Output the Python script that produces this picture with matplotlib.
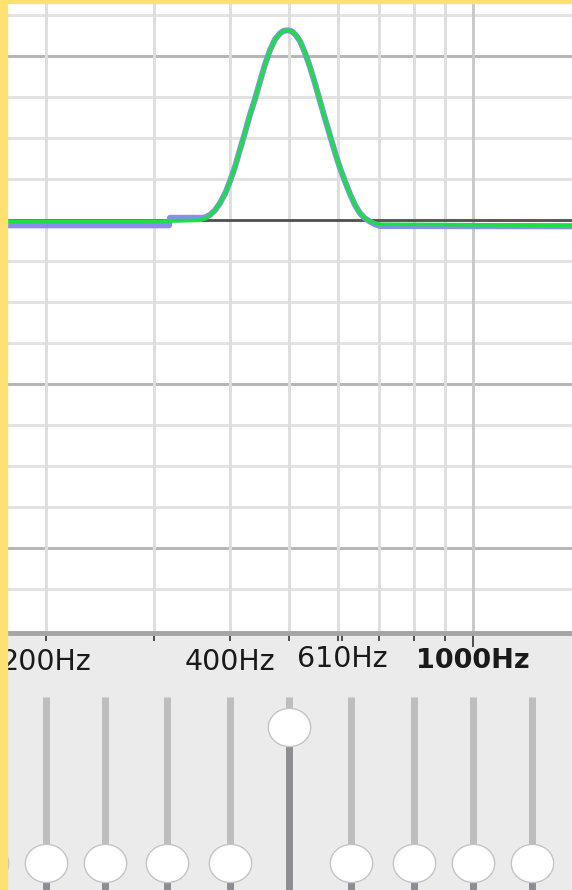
"""EQ 曲线截图复刻 — 单段峰值滤波 (500Hz) 与推子面板"""
import numpy as np
import matplotlib
matplotlib.use("Agg")
import matplotlib.pyplot as plt
from matplotlib.path import Path
from matplotlib.patches import Rectangle
from matplotlib.ticker import NullLocator

# 绿色曲线 (实际响应), Hz / dB
curve_hz = [172, 307, 357, 364, 371, 378, 385, 393, 400, 408, 415, 423, 431,
            440, 448, 456, 465, 474, 483, 490, 498, 505, 513,
            521, 531, 541, 551, 561, 572, 583, 594, 605, 617,
            629, 641, 653, 665, 678, 691, 704, 1451]
green_db = [-0.07, -0.07, 0.0, 0.11, 0.37, 0.73, 1.24, 1.98, 2.85, 3.95, 5.12, 6.37, 7.68,
            8.93, 10.17, 11.34, 12.44, 13.24, 13.68, 13.87, 13.90, 13.83, 13.54,
            13.10, 12.22, 11.20, 10.02, 8.78, 7.46, 6.22, 4.98, 3.88, 2.85,
            1.90, 1.10, 0.51, 0.15, -0.07, -0.22, -0.29, -0.37]

# 蓝色曲线 (目标响应)
blue_hz = [172, 318, 319, 357, 364, 371, 378, 385, 393, 400, 408, 415, 423, 431,
           440, 448, 456, 465, 474, 483, 490, 498, 505, 513,
           521, 531, 541, 551, 561, 572, 583, 594, 605, 617,
           629, 641, 653, 665, 678, 691, 704, 1451]
blue_db = [-0.37, -0.37, 0.18, 0.18, 0.2, 0.4, 0.73, 1.24, 1.98, 2.85, 3.95, 5.12, 6.37, 7.68,
           8.93, 10.17, 11.34, 12.44, 13.24, 13.68, 13.87, 13.90, 13.83, 13.54,
           13.10, 12.22, 11.20, 10.02, 8.78, 7.46, 6.22, 4.98, 3.88, 2.85,
           1.90, 1.10, 0.51, 0.15, -0.1, -0.3, -0.42, -0.44]

# 推子 (1/3 倍频程)
slider_hz = [160, 200, 250, 315, 400, 500, 630, 800, 1000, 1250]
slider_db = [0, 0, 0, 0, 0, 14, 0, 0, 0, 0]

# 坐标轴刻度与网格
tick_hz = [200, 300, 400, 500, 600, 610, 700, 800, 900, 1000]
tick_labels = ["200Hz", "", "400Hz", "", "", "610Hz", "", "", "", "1000Hz"]
grid_hz = [200, 300, 400, 500, 600, 700, 800, 900, 1000]
grid_db = list(range(-27, 16, 3))

W, H = 572, 890
fig = plt.figure(figsize=(W / 100, H / 100), dpi=100, facecolor="#EBEBEB")

# ---- 推子面板 ----
ax_s = fig.add_axes([7 / W, 0, 565 / W, 254 / H])
ax_s.set_facecolor("none")
ax_s.set_xscale("log")
ax_s.set_xlim(172.7, 1451)
ax_s.set_ylim(-2.8, 23.4)
ax_s.axis("off")
ax_s.vlines(slider_hz, slider_db, 17.1, color="#BDBDBD", lw=5)
ax_s.vlines(slider_hz, -3, slider_db, color="#8E8E92", lw=5)

theta = np.linspace(0, 2 * np.pi, 80)
knob = Path(np.column_stack([np.cos(theta), 0.9 * np.sin(theta)]), closed=True)
ax_s.plot(slider_hz, slider_db, ls="none", marker=knob, ms=30.5,
          mfc="white", mec="#C4C4C4", mew=1.0, clip_on=False, zorder=3)

# ---- 频响曲线 ----
ax = fig.add_axes([7 / W, 257 / H, 565 / W, 630 / H], zorder=2)
ax.set_facecolor("white")
ax.set_xscale("log")
ax.set_xlim(172.7, 1451)
ax.set_ylim(-30.2, 15.9)

for v in grid_db:
    if v == 0:
        c = "#555555"
    elif v % 12 == 0:
        c = "#B5B5B5"
    else:
        c = "#E2E2E2"
    ax.axhline(v, color=c, lw=2.1, zorder=1 if v else 2)
for f in grid_hz:
    ax.axvline(f, color="#C9C9C9" if f == 1000 else "#DEDEDE", lw=2.1, zorder=1)

ax.plot(blue_hz, blue_db, color="#8C8CEB", lw=4.3, zorder=3,
        solid_joinstyle="round", solid_capstyle="butt")
ax.plot(curve_hz, green_db, color="#1CDE48", lw=2.7, zorder=4,
        solid_joinstyle="round", solid_capstyle="butt")

for s in ["top", "left", "right"]:
    ax.spines[s].set_visible(False)
ax.spines["bottom"].set_color("#A5A5A5")
ax.spines["bottom"].set_linewidth(3.5)

ax.set_xticks(tick_hz)
ax.set_xticklabels(tick_labels)
ax.xaxis.set_minor_locator(NullLocator())
ax.tick_params(axis="x", direction="out", length=5.8, width=1.1, color="#222222",
               labelsize=20.5, labelcolor="#1A1A1A", pad=5)
ax.tick_params(axis="y", left=False, labelleft=False)

ticks = ax.xaxis.get_major_ticks()
ticks[9].tick1line.set_markersize(10)
ticks[5].set_pad(2.8)
lbls = ax.get_xticklabels()
lbls[9].set_fontweight("bold")
lbls[9].set_fontsize(19.5)

# 黄色边框
fig.add_artist(Rectangle((0, 0), 7 / W, 1, transform=fig.transFigure,
                         color="#FFE171", zorder=10))
fig.add_artist(Rectangle((0, 1 - 3 / H), 1, 3 / H, transform=fig.transFigure,
                         color="#FFE171", zorder=10))

fig.savefig("out.png", dpi=100, facecolor=fig.get_facecolor())
